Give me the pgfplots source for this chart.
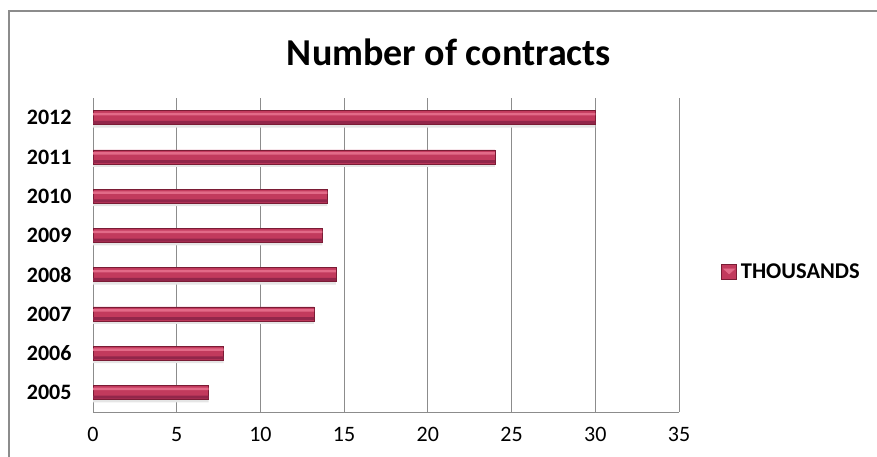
\documentclass[border=0pt]{standalone}
\usepackage{pgfplots}
\pgfplotsset{compat=1.18}
\usepackage{fontspec}
\setmainfont{Carlito}
\definecolor{barTop}{HTML}{E26A88}
\definecolor{barMid}{HTML}{C23A5D}
\definecolor{barBot}{HTML}{92264A}
\definecolor{barEdge}{HTML}{7A1C35}
\definecolor{gridc}{HTML}{8C8C8C}
\pgfplotstableread{
v y
6.9 0
7.8 1
13.2 2
14.5 3
13.7 4
14.0 5
24.0 6
30.0 7
}\contracts
\begin{document}
\begin{tikzpicture}[x=1pt,y=1pt]
\path[use as bounding box] (0,0) rectangle (877,457);
\draw[gridc, line width=2.2pt] (9,0) -- (9,446) -- (877,446);
\node[font=\bfseries\fontsize{38}{44}\selectfont] at (449,405) {Number of contracts};
\begin{axis}[
  at={(93pt,45pt)}, anchor=south west,
  scale only axis, width=586pt, height=314pt,
  xmin=0, xmax=35, ymin=-0.5, ymax=7.5,
  xtick={0,5,...,35},
  ytick={0,...,7},
  yticklabels={2005,2006,2007,2008,2009,2010,2011,2012},
  /pgf/number format/assume math mode=true,
  axis x line*=bottom, axis y line*=left,
  axis line style={gridc, line width=0.8pt},
  xmajorgrids, major grid style={gridc, line width=0.8pt},
  major tick length=0pt,
  tick style={draw=none},
  xticklabel style={font=\fontsize{22}{24}\selectfont, yshift=-12pt},
  yticklabel style={font=\bfseries\fontsize{22}{24}\selectfont, xshift=-18pt},
  legend style={draw=none, at={(1.072,0.446)}, anchor=west,
    font=\bfseries\fontsize{22.5}{24}\selectfont, inner sep=0pt,
    nodes={inner xsep=4pt}},
  legend image code/.code={
    \fill[barMid, draw=barEdge] (0pt,-7.5pt) rectangle (15pt,7.5pt);
    \fill[barTop] (2pt,3pt) -- (13pt,3pt) -- (7.5pt,-2pt) -- cycle;},
]
% shadow
\addplot[xbar, bar width=6pt, bar shift=-7pt, fill=black!10, draw=none, forget plot] table[x=v,y=y] {\contracts};
% main
\addplot[xbar, bar width=14pt, fill=barMid, draw=barEdge, line width=0.5pt] table[x=v,y=y] {\contracts};
\addlegendentry{THOUSANDS}
% top highlight
\addplot[xbar, bar width=2.5pt, bar shift=3.5pt, fill=barTop, draw=none, forget plot] table[x=v,y=y] {\contracts};
% bottom dark band
\addplot[xbar, bar width=3pt, bar shift=-4.8pt, fill=barBot, draw=none, forget plot] table[x=v,y=y] {\contracts};
\end{axis}
\end{tikzpicture}
\end{document}
